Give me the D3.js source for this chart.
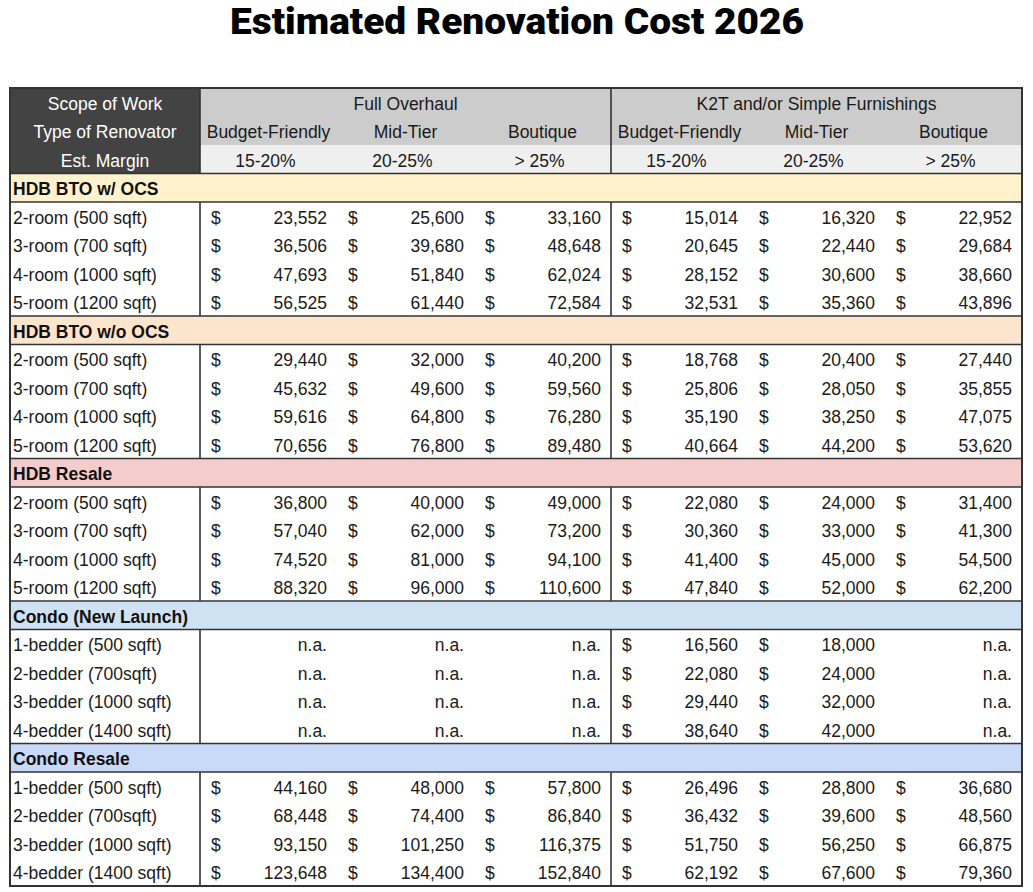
<!DOCTYPE html>
<html><head><meta charset="utf-8">
<script src="https://cdn.jsdelivr.net/npm/d3@7/dist/d3.min.js"></script>
<style>
html,body{margin:0;padding:0;background:#fff;}
svg{display:block;}
</style>
</head><body>
<svg id="chart" width="1033" height="892"></svg>
<script>
const title = "Estimated Renovation Cost 2026";
const groups = ["Full Overhaul", "K2T and/or Simple Furnishings"];
const renovators = ["Budget-Friendly", "Mid-Tier", "Boutique"];
const margins = ["15-20%", "20-25%", "> 25%"];
const headerLabels = ["Scope of Work", "Type of Renovator", "Est. Margin"];
const sections = ["HDB BTO w/ OCS", "HDB BTO w/o OCS", "HDB Resale", "Condo (New Launch)", "Condo Resale"];
const sectionColors = ["#fff2cc", "#fce5cd", "#f4cccc", "#cfe2f3", "#c9daf8"];
const hdbRows = ["2-room (500 sqft)", "3-room (700 sqft)", "4-room (1000 sqft)", "5-room (1200 sqft)"];
const condoRows = ["1-bedder (500 sqft)", "2-bedder (700sqft)", "3-bedder (1000 sqft)", "4-bedder (1400 sqft)"];
const rowLabels = [hdbRows, hdbRows, hdbRows, condoRows, condoRows];

const btoOcs = [
  [23552, 25600, 33160, 15014, 16320, 22952],
  [36506, 39680, 48648, 20645, 22440, 29684],
  [47693, 51840, 62024, 28152, 30600, 38660],
  [56525, 61440, 72584, 32531, 35360, 43896]
];
const btoNoOcs = [
  [29440, 32000, 40200, 18768, 20400, 27440],
  [45632, 49600, 59560, 25806, 28050, 35855],
  [59616, 64800, 76280, 35190, 38250, 47075],
  [70656, 76800, 89480, 40664, 44200, 53620]
];
const hdbResale = [
  [36800, 40000, 49000, 22080, 24000, 31400],
  [57040, 62000, 73200, 30360, 33000, 41300],
  [74520, 81000, 94100, 41400, 45000, 54500],
  [88320, 96000, 110600, 47840, 52000, 62200]
];
const condoNew = [
  [null, null, null, 16560, 18000, null],
  [null, null, null, 22080, 24000, null],
  [null, null, null, 29440, 32000, null],
  [null, null, null, 38640, 42000, null]
];
const condoResale = [
  [44160, 48000, 57800, 26496, 28800, 36680],
  [68448, 74400, 86840, 36432, 39600, 48560],
  [93150, 101250, 116375, 51750, 56250, 66875],
  [123648, 134400, 152840, 62192, 67600, 79360]
];
const sectionValues = [btoOcs, btoNoOcs, hdbResale, condoNew, condoResale];

(function draw() {
const svg = d3.select("#chart");
const FONT = "'Liberation Sans', Arial, Helvetica, sans-serif";
const FS = 17.5;
const DY = "0.42em";
const L = 10, LR = 200, R = 1022, T = 88, B = 886;

const rows = [];
headerLabels.forEach((h, i) => rows.push({type: "header", idx: i}));
sections.forEach((s, si) => {
  rows.push({type: "section", name: s, color: sectionColors[si]});
  rowLabels[si].forEach((lab, ri) => rows.push({type: "data", label: lab, values: sectionValues[si][ri]}));
});

const y = d3.scaleBand().domain(d3.range(rows.length)).range([T, B]).padding(0);
const colKeys = d3.range(6);
const x = d3.scaleBand().domain(colKeys).range([LR, R]).padding(0);
const gx = d3.scaleBand().domain(groups).range([LR, R]).padding(0);
const fmt = d3.format(",");

svg.append("text")
  .attr("x", 517).attr("y", 34)
  .attr("text-anchor", "middle")
  .attr("font-family", "Roboto, 'Open Sans', sans-serif")
  .attr("font-weight", 900)
  .attr("font-size", 36)
  .attr("fill", "#000")
  .attr("textLength", 574)
  .attr("lengthAdjust", "spacingAndGlyphs")
  .text(title);

const g = svg.append("g");

g.append("rect").attr("x", L).attr("y", y(0)).attr("width", LR - L).attr("height", y.bandwidth() * 3).attr("fill", "#434343");
g.append("rect").attr("x", LR).attr("y", y(0)).attr("width", R - LR).attr("height", y.bandwidth() * 2).attr("fill", "#cccccc");
g.append("rect").attr("x", LR).attr("y", y(2)).attr("width", R - LR).attr("height", y.bandwidth()).attr("fill", "#efefef");

headerLabels.forEach((h, i) => {
  g.append("text").attr("x", (L + LR) / 2).attr("y", y(i) + y.bandwidth() / 2)
    .attr("dy", DY).attr("text-anchor", "middle")
    .attr("font-family", FONT).attr("font-size", FS).attr("fill", "#fff").text(h);
});
groups.forEach(gr => {
  g.append("text").attr("x", gx(gr) + gx.bandwidth() / 2).attr("y", y(0) + y.bandwidth() / 2)
    .attr("dy", DY).attr("text-anchor", "middle")
    .attr("font-family", FONT).attr("font-size", FS).attr("fill", "#1a1a1a").text(gr);
});
colKeys.forEach(c => {
  const cx = x(c) + x.bandwidth() / 2;
  g.append("text").attr("x", cx).attr("y", y(1) + y.bandwidth() / 2)
    .attr("dy", DY).attr("text-anchor", "middle")
    .attr("font-family", FONT).attr("font-size", FS).attr("fill", "#1a1a1a").text(renovators[c % 3]);
  g.append("text").attr("x", cx - 3).attr("y", y(2) + y.bandwidth() / 2)
    .attr("dy", DY).attr("text-anchor", "middle")
    .attr("font-family", FONT).attr("font-size", FS).attr("fill", "#1a1a1a").text(margins[c % 3]);
});

rows.forEach((r, i) => {
  const cy = y(i) + y.bandwidth() / 2;
  if (r.type === "section") {
    g.append("rect").attr("x", L).attr("y", y(i)).attr("width", R - L).attr("height", y.bandwidth()).attr("fill", r.color);
    g.append("text").attr("x", L + 3).attr("y", cy)
      .attr("dy", DY).attr("font-family", FONT).attr("font-size", FS)
      .attr("font-weight", "bold").attr("fill", "#111").text(r.name);
  } else if (r.type === "data") {
    g.append("text").attr("x", L + 3).attr("y", cy)
      .attr("dy", DY).attr("font-family", FONT).attr("font-size", FS)
      .attr("fill", "#1a1a1a").text(r.label);
    r.values.forEach((v, c) => {
      if (v === null) {
        g.append("text").attr("x", x(c) + x.bandwidth() - 10).attr("y", cy)
          .attr("dy", DY).attr("text-anchor", "end")
          .attr("font-family", FONT).attr("font-size", FS).attr("fill", "#1a1a1a").text("n.a.");
      } else {
        g.append("text").attr("x", x(c) + 11).attr("y", cy)
          .attr("dy", DY).attr("font-family", FONT).attr("font-size", FS).attr("fill", "#1a1a1a").text("$");
        g.append("text").attr("x", x(c) + x.bandwidth() - 10).attr("y", cy)
          .attr("dy", DY).attr("text-anchor", "end")
          .attr("font-family", FONT).attr("font-size", FS).attr("fill", "#1a1a1a").text(fmt(v));
      }
    });
  }
});

const lineCol = "#333";
const lw = 1.6;
rows.forEach((r, i) => {
  if (r.type === "section") {
    g.append("line").attr("x1", L).attr("x2", R).attr("y1", y(i)).attr("y2", y(i)).attr("stroke", lineCol).attr("stroke-width", lw);
    g.append("line").attr("x1", L).attr("x2", R).attr("y1", y(i) + y.bandwidth()).attr("y2", y(i) + y.bandwidth()).attr("stroke", lineCol).attr("stroke-width", lw);
  }
});
let blockStart = 0;
const blocks = [];
rows.forEach((r, i) => {
  if (r.type === "section") {
    if (i > blockStart) blocks.push([blockStart, i]);
    blockStart = i + 1;
  }
});
if (blockStart < rows.length) blocks.push([blockStart, rows.length]);
blocks.forEach(([a, b]) => {
  const y1 = y(a), y2 = (b < rows.length ? y(b) : B);
  [LR, gx(groups[1])].forEach(vx => {
    g.append("line").attr("x1", vx).attr("x2", vx).attr("y1", y1).attr("y2", y2).attr("stroke", lineCol).attr("stroke-width", lw);
  });
});
g.append("rect").attr("x", L).attr("y", T).attr("width", R - L).attr("height", B - T)
  .attr("fill", "none").attr("stroke", lineCol).attr("stroke-width", 2);
})();
</script>
</body></html>
